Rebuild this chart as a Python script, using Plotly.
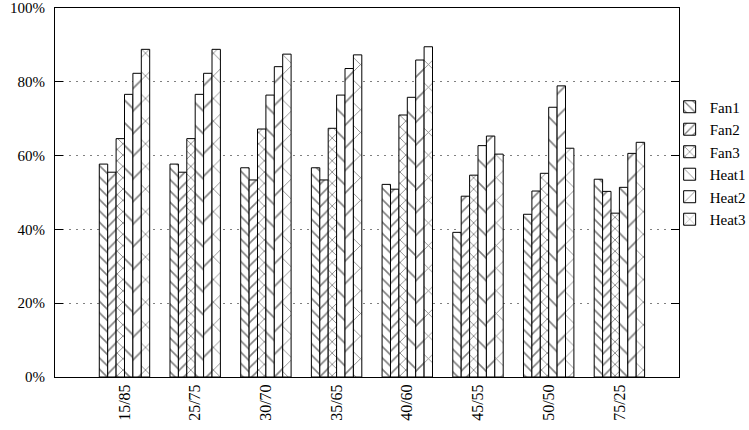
import plotly.graph_objects as go

categories = ["15/85", "25/75", "30/70", "35/65", "40/60", "45/55", "50/50", "75/25"]
fan1 = [57.7, 57.7, 56.7, 56.7, 52.2, 39.2, 44.1, 53.6]
fan2 = [55.5, 55.5, 53.4, 53.4, 50.9, 49.0, 50.4, 50.3]
fan3 = [64.6, 64.6, 67.2, 67.4, 71.0, 54.7, 55.2, 44.4]
heat1 = [76.6, 76.6, 76.4, 76.4, 75.8, 62.7, 73.1, 51.4]
heat2 = [82.3, 82.3, 84.1, 83.6, 85.9, 65.3, 78.9, 60.6]
heat3 = [88.8, 88.8, 87.5, 87.3, 89.5, 60.4, 62.0, 63.6]

series = [
    ("Fan1", fan1, "\\", 8, 0.2),
    ("Fan2", fan2, "/", 8, 0.2),
    ("Fan3", fan3, "x", 8, 0.2),
    ("Heat1", heat1, "\\", 16, 0.1),
    ("Heat2", heat2, "/", 16, 0.1),
    ("Heat3", heat3, "x", 16, 0.1),
]

FONT = "Liberation Serif"

fig = go.Figure()
for name, vals, shape, size, sol in series:
    fig.add_trace(go.Bar(
        x=categories, y=vals, name=name,
        marker=dict(
            color="white",
            line=dict(color="black", width=1),
            pattern=dict(shape=shape, size=size, solidity=sol,
                         fgcolor="black", bgcolor="white", fillmode="overlay"),
        ),
    ))

fig.update_layout(
    width=749, height=430,
    margin=dict(l=55, r=70, t=8, b=53, autoexpand=False),
    paper_bgcolor="white", plot_bgcolor="white",
    barmode="group", bargap=0.287, bargroupgap=0,
    font=dict(family=FONT, size=15, color="black"),
    legend=dict(x=0.985, xanchor="left", y=0.58, yanchor="middle",
                bgcolor="rgba(0,0,0,0)", font=dict(family=FONT, size=15)),
)
fig.update_xaxes(
    type="category", range=[-0.983, 7.843], automargin=False,
    showline=True, linecolor="black", linewidth=1, mirror=True,
    ticks="", tickangle=-90, showgrid=False,
    tickfont=dict(family=FONT, size=16),
)
fig.update_yaxes(
    range=[0, 100], dtick=20, ticksuffix="%", automargin=False,
    showline=True, linecolor="black", linewidth=1, mirror="ticks",
    ticks="inside", ticklen=8, tickcolor="black",
    showgrid=True, gridcolor="#808080", gridwidth=1, griddash="2px,5px",
    zeroline=False, ticklabelstandoff=6,
    tickfont=dict(family=FONT, size=15),
)

fig.write_html(
    "out.html",
    config={"displayModeBar": False},
    post_script="document.body.style.margin='0';document.body.style.overflow='hidden';",
)
